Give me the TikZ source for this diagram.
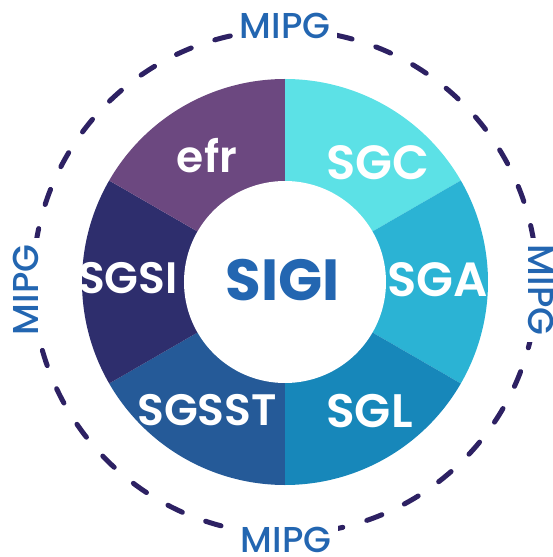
\documentclass[tikz,border=0pt]{standalone}
\usepackage{fontspec}
\setmainfont{Poppins}[UprightFont={* Medium}, BoldFont={* Bold}]
\newfontfamily\popsemi{Poppins}[UprightFont={* SemiBold}]
\definecolor{efrpurple}{HTML}{6C4880}
\definecolor{sgccyan}{HTML}{5CE1E6}
\definecolor{sgablue}{HTML}{2BB3D4}
\definecolor{sglblue}{HTML}{1787BA}
\definecolor{sgsstblue}{HTML}{255A98}
\definecolor{sgsinavy}{HTML}{2E2E6D}
\definecolor{sigiblue}{HTML}{2366B1}
\definecolor{ringnavy}{HTML}{2D2163}

\begin{document}
\begin{tikzpicture}[x=1pt,y=1pt,
  seglabel/.style={text=white, anchor=base,
    font=\popsemi\fontsize{#1}{#1}\selectfont},
  seglabel/.default=44,
  mipglabel/.style={text=sigiblue, fill=white, inner sep=7pt,
    font=\fontsize{36}{36}\selectfont},
  dashring/.style={draw=ringnavy, line width=5pt, line cap=round,
    dash pattern=on 16pt off 25pt}]
 \clip (-285,-275) rectangle (268,282);
 % ring of six sectors
 \foreach \a/\col in {90/sgccyan, 30/sgablue, -30/sglblue,
     -90/sgsstblue, -150/sgsinavy, -210/efrpurple}
   \fill[\col] (0,0) -- (\a:203) arc[start angle=\a, delta angle=-60, radius=203] -- cycle;
 \node[circle, fill=white, minimum size=202pt, inner sep=0pt] (core) at (0,0) {};
 \node[anchor=base, text=sigiblue, font=\fontsize{58}{58}\selectfont\bfseries] (sigi) at (-2.5,-18) {SIGI};
 % sector labels
 \node[seglabel] (efr) at (-78,109) {efr};
 \node[seglabel=48] (sgc) at (92.5,102) {SGC};
 \node[seglabel=48] (sga) at (152.5,-14) {SGA};
 \node[seglabel=47] (sgl) at (84.5,-145) {SGL};
 \node[seglabel] (sgsst) at (-78,-143) {SGSST};
 \node[seglabel] (sgsi) at (-157,-11) {SGSI};
 % outer dashed ring
 \draw[dashring] (0,0) circle[radius=252];
 \node[mipglabel] (mipgtop) at (0,256) {MIPG};
 \node[mipglabel] (mipgbot) at (1,-258) {MIPG};
 \node[mipglabel, rotate=90] (mipgleft) at (-259,-8) {MIPG};
 \node[mipglabel, rotate=-90] (mipgright) at (256,-8) {MIPG};
\end{tikzpicture}
\end{document}
